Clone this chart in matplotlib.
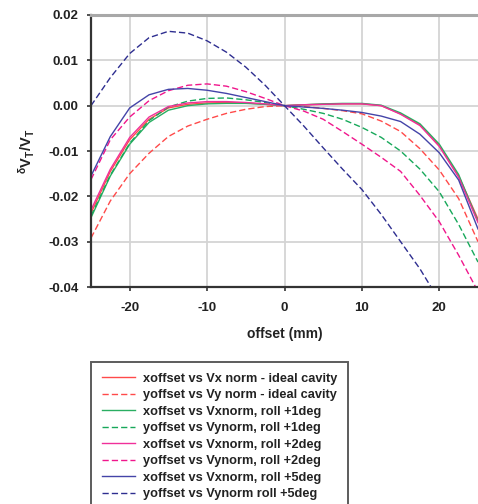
import numpy as np
import matplotlib
matplotlib.use('Agg')
import matplotlib.pyplot as plt

plt.rcParams['font.family'] = ['Liberation Sans', 'DejaVu Sans']
plt.rcParams['font.weight'] = 'bold'
plt.rcParams['axes.unicode_minus'] = False
plt.rcParams['mathtext.fontset'] = 'custom'
plt.rcParams['mathtext.rm'] = 'Liberation Sans:bold'
plt.rcParams['mathtext.it'] = 'Liberation Sans:bold'
plt.rcParams['mathtext.bf'] = 'Liberation Sans:bold'

# offset in mm
offset = [-25, -22.5, -20, -17.5, -15, -12.5, -10, -7.5, -5, -2.5, 0,
          2.5, 5, 7.5, 10, 12.5, 15, 17.5, 20, 22.5, 25]

x_ideal = [-0.0237, -0.0145, -0.0075, -0.0030, -0.0005, 0.0003, 0.0006, 0.0007, 0.0006, 0.0003, 0.0,
           0.0002, 0.0003, 0.0004, 0.0004, 0.0000, -0.0018, -0.0042, -0.0088, -0.0155, -0.0250]
y_ideal = [-0.0292, -0.0210, -0.0150, -0.0105, -0.0068, -0.0045, -0.0030, -0.0017, -0.0008, -0.0002, 0.0,
           -0.0002, -0.0006, -0.0011, -0.0018, -0.0034, -0.0057, -0.0095, -0.0142, -0.0205, -0.0300]
x_roll1 = [-0.0247, -0.0155, -0.0085, -0.0037, -0.0010, 0.0000, 0.0004, 0.0005, 0.0005, 0.0003, 0.0,
           0.0002, 0.0004, 0.0005, 0.0005, 0.0001, -0.0016, -0.0040, -0.0085, -0.0152, -0.0255]
y_roll1 = [-0.0243, -0.0153, -0.0083, -0.0033, -0.0003, 0.0010, 0.0016, 0.0017, 0.0013, 0.0007, 0.0,
           -0.0008, -0.0017, -0.0030, -0.0048, -0.0070, -0.0100, -0.0140, -0.0190, -0.0262, -0.0345]
x_roll2 = [-0.0230, -0.0140, -0.0070, -0.0025, -0.0002, 0.0006, 0.0009, 0.0009, 0.0007, 0.0004, 0.0,
           0.0002, 0.0003, 0.0004, 0.0004, 0.0000, -0.0019, -0.0044, -0.0090, -0.0158, -0.0258]
y_roll2 = [-0.0163, -0.0075, -0.0025, 0.0011, 0.0033, 0.0045, 0.0048, 0.0043, 0.0031, 0.0016, 0.0,
           -0.0012, -0.0030, -0.0057, -0.0085, -0.0114, -0.0145, -0.0198, -0.0256, -0.0330, -0.0410]
x_roll5 = [-0.0155, -0.0068, -0.0005, 0.0024, 0.0036, 0.0038, 0.0034, 0.0027, 0.0018, 0.0009, 0.0,
           -0.0003, -0.0006, -0.0010, -0.0015, -0.0023, -0.0035, -0.0063, -0.0104, -0.0164, -0.0272]
y_roll5 = [0.0000, 0.0062, 0.0115, 0.0150, 0.0164, 0.0160, 0.0143, 0.0118, 0.0085, 0.0045, 0.0,
           -0.0045, -0.0093, -0.0140, -0.0185, -0.0240, -0.0300, -0.0360, -0.0430, -0.0510, -0.0600]

series = [
    (x_ideal, 'xoffset vs Vx norm - ideal cavity', '#FF4A4A', '-'),
    (y_ideal, 'yoffset vs Vy norm - ideal cavity', '#FF4A4A', '--'),
    (x_roll1, 'xoffset vs Vxnorm, roll +1deg', '#2AAE62', '-'),
    (y_roll1, 'yoffset vs Vynorm, roll +1deg', '#17A85A', '--'),
    (x_roll2, 'xoffset vs Vxnorm, roll +2deg', '#F0309A', '-'),
    (y_roll2, 'yoffset vs Vynorm, roll +2deg', '#F0168C', '--'),
    (x_roll5, 'xoffset vs Vxnorm, roll +5deg', '#4444A8', '-'),
    (y_roll5, 'yoffset vs Vynorm roll +5deg', '#2E2E90', '--'),
]

fig = plt.figure(figsize=(4.78, 5.04), dpi=100)
ax = fig.add_axes([91/478, 1 - 287/504, 1 - 91/478, 272/504])

for vals, lab, col, ls in series:
    if ls == '--':
        ax.plot(offset, vals, color=col, lw=1.0, ls=ls, dashes=(4.5, 2.2), label=lab)
    else:
        ax.plot(offset, vals, color=col, lw=1.0, ls=ls, label=lab)

ax.set_xlim(-25, 25)
ax.set_ylim(-0.04, 0.02)
ax.set_xticks([-20, -10, 0, 10, 20])
ax.set_yticks([-0.04, -0.03, -0.02, -0.01, 0.0, 0.01, 0.02])
ax.yaxis.set_major_formatter(matplotlib.ticker.FormatStrFormatter('%.2f'))
ax.grid(True, color='#D4D4D4', lw=1.3)
ax.set_axisbelow(True)

ax.spines['top'].set_color('#A8A8A8')
ax.spines['top'].set_linewidth(2.2)
ax.spines['right'].set_visible(False)
for s in ['left', 'bottom']:
    ax.spines[s].set_color('#333333')
    ax.spines[s].set_linewidth(1.6)

ax.tick_params(axis='both', direction='out', length=3, width=1.2, color='#333333',
               labelsize=9.5, labelcolor='#222222')
ax.tick_params(axis='y', pad=6)
ax.tick_params(axis='x', pad=8)
for t in ax.get_xticklabels() + ax.get_yticklabels():
    t.set_fontweight('bold')

ax.set_xlabel('offset (mm)', fontsize=10, fontweight='bold', color='#222222', labelpad=9)
ax.set_ylabel(r'$^{\delta}\mathrm{V_T/V_T}$', fontsize=10.5, color='#222222', labelpad=8)

leg = fig.legend(loc='upper left', bbox_to_anchor=(91/478, 1 - 362/504),
                 frameon=True, fancybox=False, borderaxespad=0,
                 handlelength=2.6, handletextpad=0.6, labelspacing=0.35,
                 borderpad=0.85, prop={'weight': 'bold', 'size': 9.2})
leg.get_frame().set_edgecolor('#333333')
leg.get_frame().set_linewidth(1.4)
for t in leg.get_texts():
    t.set_color('#222222')

fig.savefig('out.png', dpi=100)
